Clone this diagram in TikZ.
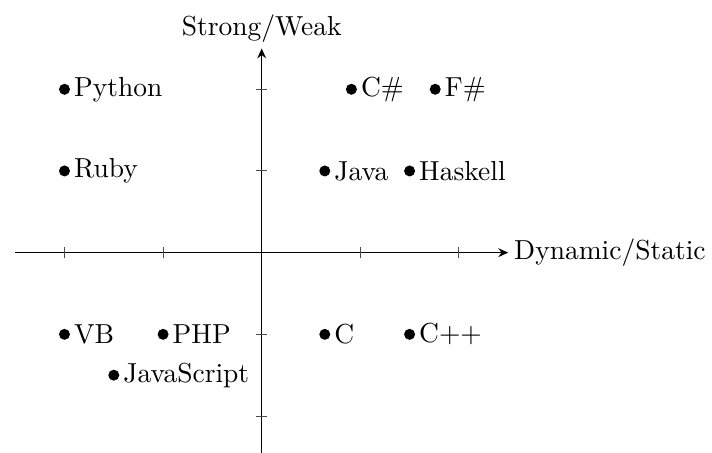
\documentclass[tikz,border=0pt]{standalone}
\usetikzlibrary{arrows.meta}
\begin{document}
\begin{tikzpicture}[x=35.85pt,y=29.7pt,
  axisline/.style={line width=0.5pt,-{Stealth[length=3.6pt,width=3.2pt,inset=1.2pt]}},
  tickmark/.style={black!70,line width=0.35pt},
  lang/.style={circle,fill=black,inner sep=0pt,minimum size=4pt,
    label={[inner sep=1.1pt]right:#1}},
  axislabel/.style={inner sep=2pt}]
  \useasboundingbox (-2.654,-2.452) rectangle (4.567,3.093);

  % axes
  \coordinate (xl) at (-2.5,0);
  \coordinate (xr) at (2.5,0);
  \coordinate (yb) at (0,-2.5);
  \coordinate (yt) at (0,2.5);
  \draw[axisline] (xl) -- (xr);
  \draw[axisline] (yb) -- (yt);
  \node[axislabel,anchor=west] (xlab) at (xr) {Dynamic/Static};
  \node[axislabel,anchor=south] (ylab) at (yt) {Strong/Weak};

  % tick marks
  \foreach \t in {-2,-1,1,2} {
    \draw[tickmark] (\t,0) ++(0,-2.1pt) -- ++(0,4.2pt);
    \draw[tickmark] (0,\t) ++(-2.1pt,0) -- ++(4.2pt,0);
  }

  % languages
  \node[lang=Python] (python) at (-2,2) {};
  \node[lang=Ruby] (ruby) at (-2,1) {};
  \node[lang={C\#}] (csharp) at (0.91,2) {};
  \node[lang={F\#}] (fsharp) at (1.76,2) {};
  \node[lang=Java] (java) at (0.64,1) {};
  \node[lang=Haskell] (haskell) at (1.5,1) {};
  \node[lang=VB] (vb) at (-2,-1) {};
  \node[lang=PHP] (php) at (-1,-1) {};
  \node[lang=JavaScript] (js) at (-1.5,-1.5) {};
  \node[lang=C] (c) at (0.64,-1) {};
  \node[lang=C++] (cpp) at (1.5,-1) {};
\end{tikzpicture}
\end{document}
